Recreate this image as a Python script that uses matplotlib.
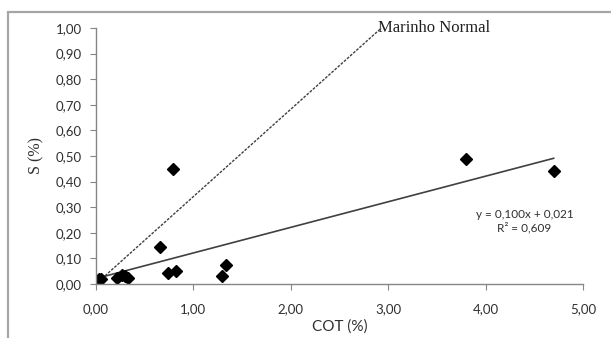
import numpy as np
import matplotlib.pyplot as plt
from matplotlib.patches import Rectangle

# ============================================================
# Data: COT vs S (%)
# ============================================================
cot = [0.03, 0.05, 0.22, 0.27, 0.30, 0.33, 0.66, 0.74, 0.82, 0.79, 1.29, 1.34, 3.80, 4.70]
s_pct = [0.02, 0.02, 0.025, 0.035, 0.03, 0.025, 0.145, 0.043, 0.05, 0.45, 0.03, 0.074, 0.49, 0.44]

# Linear fit reported on the chart
slope, intercept = 0.100, 0.021
fit_x = [0.03, 4.70]

# Normal marine line (C/S ratio)
marine_x = [0.03, 2.93]
marine_y = [0.01, 1.00]

x_ticks = [0, 1, 2, 3, 4, 5]
y_ticks = [0.0, 0.1, 0.2, 0.3, 0.4, 0.5, 0.6, 0.7, 0.8, 0.9, 1.0]

def comma(v):
    return f"{v:.2f}".replace('.', ',')

plt.rcParams['font.family'] = ['Lato', 'DejaVu Sans']

# ============================================================
# Figure
# ============================================================
fig = plt.figure(figsize=(6.11, 3.38), dpi=100)
ax = fig.add_axes([0.157, 0.160, 0.797, 0.757])

# outer chart frame (cut off on the right and bottom)
fig.patches.append(Rectangle((8 / 611, -0.2), 1.2, 1 - 11.5 / 338 + 0.2,
                             transform=fig.transFigure, fill=False,
                             edgecolor='#a6a6a6', linewidth=1.6))

ax.plot(marine_x, marine_y, color='#404040', linestyle=(0, (2, 1)), linewidth=1.0)
fx = np.array(fit_x)
ax.plot(fx, slope * fx + intercept, color='#404040', linewidth=1.2)
ax.plot(cot, s_pct, linestyle='none', marker='D', markersize=6.5, color='black')

ax.set_xlim(0, 5)
ax.set_ylim(0, 1)
ax.set_xticks(x_ticks)
ax.set_yticks(y_ticks)
ax.set_xticklabels([comma(v) for v in x_ticks])
ax.set_yticklabels([comma(v) for v in y_ticks])

for side in ['top', 'right']:
    ax.spines[side].set_visible(False)
for side in ['left', 'bottom']:
    ax.spines[side].set_color('#868686')
    ax.spines[side].set_linewidth(1.0)
ax.tick_params(direction='out', length=4, color='#868686', labelsize=9.5,
               labelcolor='#303030', pad=6)
ax.tick_params(axis='x', pad=10)

ax.set_xlabel('COT (%)', fontsize=11, color='#303030', labelpad=3)
ax.set_ylabel('S (%)', fontsize=11.5, family='Liberation Serif', color='#303030', labelpad=8)

ax.text(2.9, 1.0, 'Marinho Normal', family='Liberation Serif', fontsize=12,
        ha='left', va='center', color='#202020')
ax.text(4.40, 0.245, 'y = 0,100x + 0,021\nR² = 0,609', fontsize=8.5,
        ha='center', va='center', color='#303030', linespacing=1.25)

plt.savefig('out.png', dpi=100)
